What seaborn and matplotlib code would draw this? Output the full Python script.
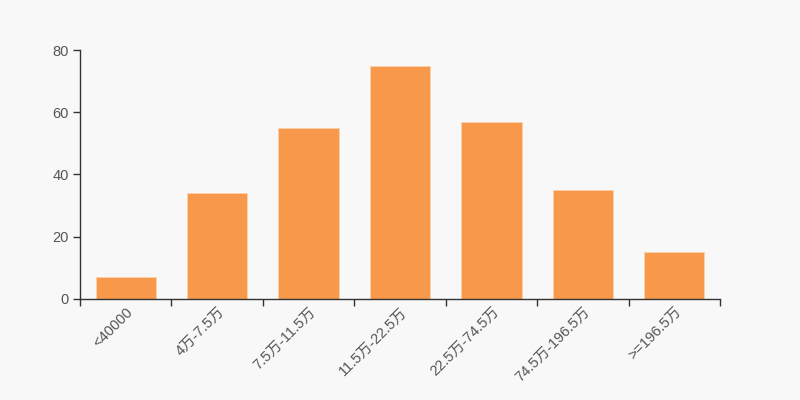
import numpy as np
import pandas as pd
from matplotlib import pyplot as plt
import seaborn as sns

categories = ["<40000", "4万-7.5万", "7.5万-11.5万", "11.5万-22.5万",
              "22.5万-74.5万", "74.5万-196.5万", ">=196.5万"]
counts = [7, 34, 55, 75, 57, 35, 15]

df = pd.DataFrame({"range": categories, "count": counts})

sns.set_style("ticks")
plt.rcParams['font.family'] = ['Liberation Sans', 'Noto Sans CJK SC', 'DejaVu Sans']

fig, ax = plt.subplots(figsize=(8, 4), dpi=100)
fig.patch.set_facecolor("#f8f8f8")
ax.set_facecolor("#f8f8f8")
fig.subplots_adjust(left=0.1, right=0.9, bottom=0.2525, top=0.875)

sns.barplot(data=df, x="range", y="count", color="#f7984a", width=0.66,
            saturation=1, edgecolor="#fbd2ac", linewidth=0.6, ax=ax)

ax.set_xlim(-0.5, len(categories) - 0.5)
ax.set_ylim(0, 80)
ax.set_yticks([0, 20, 40, 60, 80])
ax.set_xlabel("")
ax.set_ylabel("")

# ticks at category boundaries, labels at centers
ax.set_xticks(np.arange(-0.5, len(categories)), minor=True)
ax.tick_params(axis="x", which="major", length=0, pad=4)
ax.tick_params(axis="x", which="minor", length=5, color="#333333", width=1)
ax.tick_params(axis="y", length=5, color="#333333", width=1, pad=3)
ax.tick_params(labelsize=10.5, labelcolor="#555555")
plt.setp(ax.get_xticklabels(), rotation=45, ha="right", rotation_mode="anchor")

for s in ["top", "right"]:
    ax.spines[s].set_visible(False)
for s in ["left", "bottom"]:
    ax.spines[s].set_color("#333333")
    ax.spines[s].set_linewidth(1)

plt.savefig("out.png", dpi=100, facecolor=fig.get_facecolor())
